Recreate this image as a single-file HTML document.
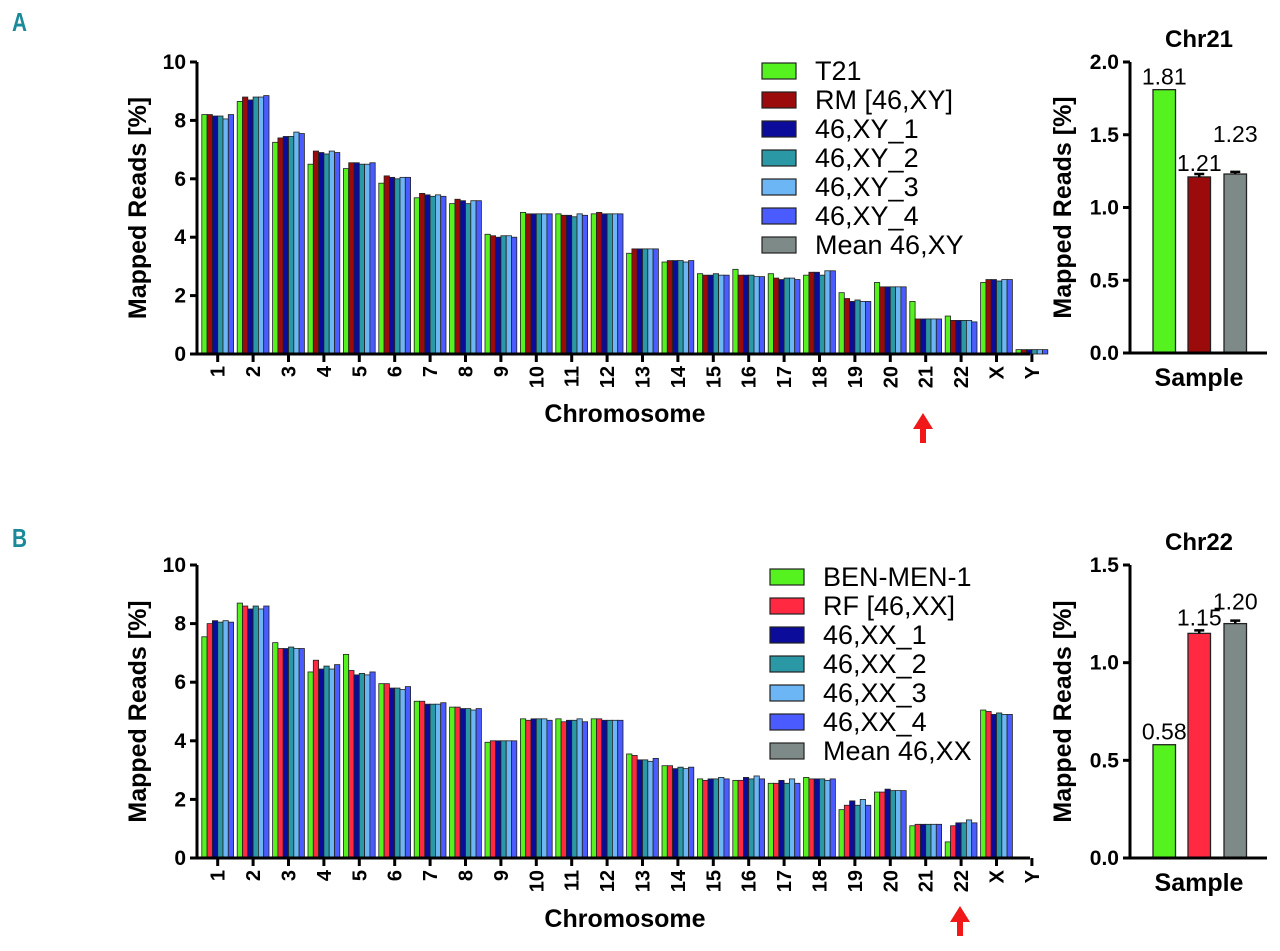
<!DOCTYPE html>
<html><head><meta charset="utf-8">
<style>
body{margin:0;background:#fff;}
svg text{font-family:"Liberation Sans",sans-serif;}
</style></head>
<body>
<svg id="fig" width="1280" height="946" viewBox="0 0 1280 946" xmlns="http://www.w3.org/2000/svg">
<text x="12" y="31" font-size="26" fill="#1a8a9a" font-weight="bold" transform="scale(0.8,1)" style="transform-origin:12px 31px">A</text>
<text x="12" y="547" font-size="26" fill="#1a8a9a" font-weight="bold" transform="scale(0.8,1)" style="transform-origin:12px 547px">B</text>
</svg>
<script>
const chromosomes=["1","2","3","4","5","6","7","8","9","10","11","12","13","14","15","16","17","18","19","20","21","22","X","Y"];
const seriesA_T21=[8.2,8.65,7.25,6.5,6.35,5.85,5.35,5.15,4.1,4.85,4.8,4.8,3.45,3.15,2.75,2.9,2.75,2.7,2.1,2.45,1.8,1.3,2.45,0.15];
const seriesA_RM=[8.2,8.8,7.4,6.95,6.55,6.1,5.5,5.3,4.05,4.8,4.75,4.85,3.6,3.2,2.7,2.7,2.6,2.8,1.9,2.3,1.2,1.15,2.55,0.15];
const seriesA_XY1=[8.15,8.7,7.45,6.9,6.55,6.05,5.45,5.25,4.0,4.8,4.75,4.8,3.6,3.2,2.7,2.7,2.55,2.8,1.8,2.3,1.2,1.15,2.55,0.15];
const seriesA_XY2=[8.15,8.8,7.45,6.85,6.5,6.0,5.4,5.15,4.05,4.8,4.7,4.8,3.6,3.2,2.75,2.7,2.6,2.7,1.85,2.3,1.2,1.15,2.5,0.15];
const seriesA_XY3=[8.05,8.8,7.6,6.95,6.5,6.05,5.45,5.25,4.05,4.8,4.8,4.8,3.6,3.15,2.7,2.65,2.6,2.85,1.8,2.3,1.2,1.15,2.55,0.15];
const seriesA_XY4=[8.2,8.85,7.55,6.9,6.55,6.05,5.4,5.25,4.0,4.8,4.75,4.8,3.6,3.2,2.7,2.65,2.55,2.85,1.8,2.3,1.2,1.1,2.55,0.15];
const seriesB_BEN=[7.55,8.7,7.35,6.35,6.95,5.95,5.35,5.15,3.95,4.75,4.75,4.75,3.55,3.15,2.7,2.65,2.55,2.75,1.65,2.25,1.1,0.55,5.05,0];
const seriesB_RF=[8.0,8.6,7.15,6.75,6.4,5.95,5.35,5.15,4.0,4.7,4.65,4.75,3.5,3.15,2.65,2.65,2.55,2.7,1.8,2.25,1.15,1.1,5.0,0];
const seriesB_XX1=[8.1,8.5,7.15,6.45,6.25,5.8,5.25,5.1,4.0,4.75,4.7,4.7,3.35,3.05,2.7,2.75,2.65,2.7,1.95,2.35,1.15,1.2,4.9,0];
const seriesB_XX2=[8.05,8.6,7.2,6.55,6.3,5.8,5.25,5.1,4.0,4.75,4.7,4.7,3.35,3.1,2.7,2.7,2.55,2.7,1.8,2.3,1.15,1.2,4.95,0];
const seriesB_XX3=[8.1,8.5,7.15,6.45,6.25,5.75,5.25,5.05,4.0,4.75,4.75,4.7,3.3,3.05,2.75,2.8,2.7,2.65,2.0,2.3,1.15,1.3,4.9,0];
const seriesB_XX4=[8.05,8.6,7.15,6.6,6.35,5.85,5.3,5.1,4.0,4.7,4.65,4.7,3.4,3.1,2.7,2.7,2.55,2.7,1.8,2.3,1.15,1.2,4.9,0];
const yTicksMain=[0,2,4,6,8,10];
const samplesA=["T21","RM [46,XY]","Mean 46,XY"];
const valuesA=[1.81,1.21,1.23];
const errA=[0,0.02,0.015];
const yTicksA=[0,0.5,1.0,1.5,2.0];
const samplesB=["BEN-MEN-1","RF [46,XX]","Mean 46,XX"];
const valuesB=[0.58,1.15,1.20];
const errB=[0,0.015,0.015];
const yTicksB=[0,0.5,1.0,1.5];

const NS="http://www.w3.org/2000/svg";
const svg=document.getElementById('fig');
function mk(tag,attrs,parent,text){const e=document.createElementNS(NS,tag);for(const k in attrs)e.setAttribute(k,attrs[k]);if(text!==undefined)e.textContent=text;(parent||svg).appendChild(e);return e;}

function mainChart(cfg){
  const g=mk('g',{});
  
  
  const x0=197,y0=cfg.y0,yTop=cfg.yTop,xEnd=1030,ymax=10;
  const ys=v=>y0-(v/ymax)*(y0-yTop);
  const step=35.4,first=217.7,bw=5.3;
  const xs=i=>first+i*step;
  cfg.series.forEach((s,si)=>{
    s.vals.forEach((v,i)=>{
      if(v<=0)return;
      const bx=xs(i)-3*bw+si*bw;
      const r=mk('rect',{x:bx,y:ys(v),width:bw,height:y0-ys(v),fill:s.color,stroke:'#222','stroke-width':0.8},g);
      
      
    });
  });
  const ax=mk('path',{d:`M${x0},${yTop} V${y0} H${xEnd}`,stroke:'#000','stroke-width':3,fill:'none'},g);
  
  
  yTicksMain.forEach(t=>{
    mk('line',{x1:x0-7,x2:x0,y1:ys(t),y2:ys(t),stroke:'#000','stroke-width':3},g);
    const tl=mk('text',{x:x0-11,y:ys(t)+7,'text-anchor':'end','font-size':21,'font-weight':'bold'},g,String(t));
    
    
  });
  chromosomes.forEach((c,i)=>{
    mk('line',{x1:xs(i),x2:xs(i),y1:y0,y2:y0+8,stroke:'#000','stroke-width':3},g);
    const tl=mk('text',{x:0,y:0,'text-anchor':'end','font-size':20,'font-weight':'bold',transform:`translate(${xs(i)+7},${y0+12}) rotate(-90)`},g,c);
    
    
  });
  const yt=mk('text',{x:0,y:0,'text-anchor':'middle','font-size':25,'font-weight':'bold',transform:`translate(146,${(y0+yTop)/2}) rotate(-90)`},g,'Mapped Reads [%]');
  
  
  const xt=mk('text',{x:625,y:cfg.xTitleY,'text-anchor':'middle','font-size':25,'font-weight':'bold'},g,'Chromosome');
  
  
  const ar=mk('path',{d:`M${cfg.arrowX-10},${cfg.arrowY+16} L${cfg.arrowX},${cfg.arrowY} L${cfg.arrowX+10},${cfg.arrowY+16} L${cfg.arrowX+3},${cfg.arrowY+16} L${cfg.arrowX+3},${cfg.arrowY+30} L${cfg.arrowX-3},${cfg.arrowY+30} L${cfg.arrowX-3},${cfg.arrowY+16} Z`,fill:'#f01818'},g);
  
  
  cfg.legend.forEach((l,i)=>{
    const ly=cfg.legY+i*29;
    const r=mk('rect',{x:cfg.legX,y:ly,width:34,height:16,fill:l.color,stroke:'#222','stroke-width':1.2},g);
    
    
    const t=mk('text',{x:cfg.legX+53,y:ly+17,'font-size':27},g,l.label);
    
    
  });
}

const cA=['#55f21f','#9b0b0b','#0c0c9a','#2b98a6','#6cb6f6','#4a5cff','#7e8a88'];
const cB=['#55f21f','#ff2a42','#0c0c9a','#2b98a6','#6cb6f6','#4a5cff','#7e8a88'];
mainChart({name:'chart-a-main',y0:354,yTop:62,xTitleY:422,arrowX:923,arrowY:413,legX:762,legY:63,
  series:[{key:'t21',vals:seriesA_T21,color:cA[0]},{key:'rm',vals:seriesA_RM,color:cA[1]},{key:'xy1',vals:seriesA_XY1,color:cA[2]},{key:'xy2',vals:seriesA_XY2,color:cA[3]},{key:'xy3',vals:seriesA_XY3,color:cA[4]},{key:'xy4',vals:seriesA_XY4,color:cA[5]}],
  legend:[{label:'T21',color:cA[0]},{label:'RM [46,XY]',color:cA[1]},{label:'46,XY_1',color:cA[2]},{label:'46,XY_2',color:cA[3]},{label:'46,XY_3',color:cA[4]},{label:'46,XY_4',color:cA[5]},{label:'Mean 46,XY',color:cA[6]}]});
mainChart({name:'chart-b-main',y0:858,yTop:565,xTitleY:927,arrowX:960,arrowY:906,legX:770,legY:569,
  series:[{key:'ben',vals:seriesB_BEN,color:cB[0]},{key:'rf',vals:seriesB_RF,color:cB[1]},{key:'xx1',vals:seriesB_XX1,color:cB[2]},{key:'xx2',vals:seriesB_XX2,color:cB[3]},{key:'xx3',vals:seriesB_XX3,color:cB[4]},{key:'xx4',vals:seriesB_XX4,color:cB[5]}],
  legend:[{label:'BEN-MEN-1',color:cB[0]},{label:'RF [46,XX]',color:cB[1]},{label:'46,XX_1',color:cB[2]},{label:'46,XX_2',color:cB[3]},{label:'46,XX_3',color:cB[4]},{label:'46,XX_4',color:cB[5]},{label:'Mean 46,XX',color:cB[6]}]});

function sideChart(cfg){
  const g=mk('g',{});
  
  
  const x0=1130,xEnd=1267,y0=cfg.y0,yTop=cfg.yTop;
  const ys=v=>y0-(v/cfg.ymax)*(y0-yTop);
  const bx=[1153,1188,1224],bw=22.5;
  cfg.values.forEach((v,i)=>{
    const r=mk('rect',{x:bx[i],y:ys(v),width:bw,height:y0-ys(v),fill:cfg.colors[i],stroke:'#222','stroke-width':1.3},g);
    
    
    if(cfg.err[i]>0){
      const cx=bx[i]+bw/2;
      mk('path',{d:`M${cx},${ys(v)} V${ys(v+cfg.err[i])} M${cx-5},${ys(v+cfg.err[i])} H${cx+5}`,stroke:'#000','stroke-width':2.5},g);
    }
    const t=mk('text',{x:bx[i]+bw/2,y:ys(v)-cfg.labOff[i],'text-anchor':'middle','font-size':23},g,v.toFixed(2));
    
    
  });
  const ax=mk('path',{d:`M${x0},${yTop} V${y0} H${xEnd}`,stroke:'#000','stroke-width':3,fill:'none'},g);
  
  
  cfg.ticks.forEach(t=>{
    mk('line',{x1:x0-7,x2:x0,y1:ys(t),y2:ys(t),stroke:'#000','stroke-width':3},g);
    const tl=mk('text',{x:x0-11,y:ys(t)+7,'text-anchor':'end','font-size':21,'font-weight':'bold'},g,t.toFixed(1));
    
    
  });
  const yt=mk('text',{x:0,y:0,'text-anchor':'middle','font-size':25,'font-weight':'bold',transform:`translate(1071,${(y0+yTop)/2}) rotate(-90)`},g,'Mapped Reads [%]');
  
  
  const xt=mk('text',{x:1199,y:y0+33,'text-anchor':'middle','font-size':25,'font-weight':'bold'},g,'Sample');
  
  
  const tt=mk('text',{x:1199,y:yTop-15,'text-anchor':'middle','font-size':24,'font-weight':'bold'},g,cfg.title);
  
  
}
sideChart({name:'chart-a-chr21',y0:353,yTop:62,ymax:2.0,values:valuesA,err:errA,samples:samplesA,ticks:yTicksA,colors:[cA[0],cA[1],cA[6]],title:'Chr21',labOff:[5,6,32]});
sideChart({name:'chart-b-chr22',y0:858,yTop:565,ymax:1.5,values:valuesB,err:errB,samples:samplesB,ticks:yTicksB,colors:[cB[0],cB[1],cB[6]],title:'Chr22',labOff:[5,8,14]});
</script>
</body></html>
